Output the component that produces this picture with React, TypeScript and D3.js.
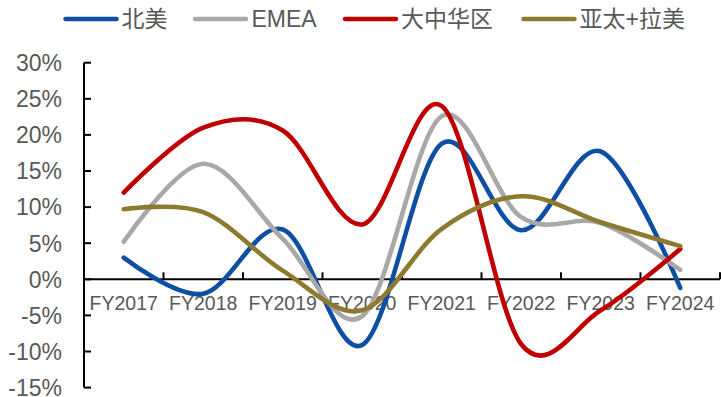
import React from "react";
import * as d3 from "d3";

// Fiscal years along the category axis
const years = ["FY2017", "FY2018", "FY2019", "FY2020", "FY2021", "FY2022", "FY2023", "FY2024"];

// Year-over-year growth by region (%)
const northAmerica = [3.0, -2.0, 6.9, -9.1, 18.8, 6.8, 17.7, -1.2];
const emea = [5.2, 16.0, 5.6, -5.1, 22.6, 8.6, 7.8, 1.3];
const greaterChina = [12.0, 21.0, 20.6, 7.6, 24.0, -9.0, -4.3, 4.2];
const apla = [9.7, 9.3, 1.2, -4.3, 7.0, 11.5, 7.9, 4.6];

const yTicks = [-15, -10, -5, 0, 5, 10, 15, 20, 25, 30];

const seriesNames = ["北美", "EMEA", "大中华区", "亚太+拉美"];
const seriesColors = ["#0E4FA3", "#A8A8A8", "#C00000", "#8E7A2E"];

const W = 721;
const H = 397;
const FONT = "'Liberation Sans', Arial, 'Noto Sans CJK SC', sans-serif";
const TEXT = "#595959";

export default function App() {
  const seriesValues = [northAmerica, emea, greaterChina, apla];

  const x = d3.scaleBand<string>().domain(years).range([84, 720]);
  const y = d3.scaleLinear().domain([-15, 30]).range([387.6, 62.7]);

  const line = d3
    .line<number>()
    .x((_, i) => (x(years[i]) as number) + x.bandwidth() / 2)
    .y((v) => y(v))
    .curve(d3.curveCardinal.tension(0));

  const y0 = y(0);
  const boundaries = years.map((yr) => (x(yr) as number) + x.bandwidth());

  // legend layout
  const legendItems = [
    { lx: 63.5, tx: 121.5 },
    { lx: 193, tx: 251.5 },
    { lx: 343, tx: 401 },
    { lx: 521.5, tx: 579.5 },
  ];

  return (
    <svg
      width={W}
      height={H}
      style={{ position: "absolute", left: 0, top: 0, background: "#fff" }}
      fontFamily={FONT}
    >
      {/* legend */}
      {legendItems.map((it, i) => (
        <g key={seriesNames[i]}>
          <line
            x1={it.lx + 2}
            x2={it.lx + 53}
            y1={19}
            y2={19}
            stroke={seriesColors[i]}
            strokeWidth={4.5}
            strokeLinecap="round"
          />
          <text x={it.tx} y={27} fontSize={23} fill={TEXT}>
            {seriesNames[i]}
          </text>
        </g>
      ))}

      {/* y axis */}
      <line x1={84} x2={84} y1={y(30)} y2={y(-15)} stroke="#000" strokeWidth={2} />
      {yTicks.map((t) => (
        <g key={t}>
          <line x1={84} x2={91} y1={y(t)} y2={y(t)} stroke="#000" strokeWidth={2} />
          <text
            x={62}
            y={y(t) + 8.3}
            textAnchor="end"
            fontSize={23}
            fill={TEXT}
          >
            {`${t}%`}
          </text>
        </g>
      ))}

      {/* x axis at zero */}
      <line x1={84} x2={720} y1={y0} y2={y0} stroke="#000" strokeWidth={2} />
      {boundaries.map((bx, i) => (
        <line key={i} x1={bx} x2={bx} y1={y0} y2={y0 - 7} stroke="#000" strokeWidth={2} />
      ))}
      {years.map((yr) => (
        <text
          key={yr}
          x={(x(yr) as number) + x.bandwidth() / 2}
          y={310}
          textAnchor="middle"
          fontSize={19.5}
          fill={TEXT}
        >
          {yr}
        </text>
      ))}

      {/* series */}
      {seriesValues.map((vals, i) => (
        <path
          key={seriesNames[i]}
          d={line(vals) as string}
          fill="none"
          stroke={seriesColors[i]}
          strokeWidth={4.6}
          strokeLinecap="round"
          strokeLinejoin="round"
        />
      ))}
    </svg>
  );
}
